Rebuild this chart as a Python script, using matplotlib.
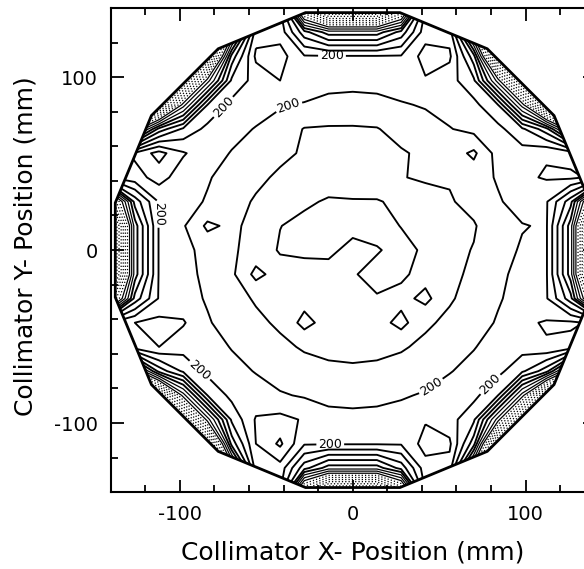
import numpy as np
import matplotlib
matplotlib.use('Agg')
import matplotlib.pyplot as plt
from matplotlib.patches import Polygon

plt.rcParams['axes.unicode_minus'] = False
plt.rcParams['font.family'] = 'DejaVu Sans'

# measurement grid (mm), 14 mm pitch
x_mm = [-140, -126, -112, -98, -84, -70, -56, -42, -28, -14, 0,
        14, 28, 42, 56, 70, 84, 98, 112, 126, 140]
y_mm = [140, 126, 112, 98, 84, 70, 56, 42, 28, 14, 0,
        -14, -28, -42, -56, -70, -84, -98, -112, -126, -140]

# counts, top row (y=140) first
counts = [
    [340, 340, 340, 340, 340, 260, 196, 200, 310, 360, 360, 360, 310, 200, 196, 260, 340, 340, 340, 340, 340],
    [340, 340, 340, 345, 350, 280, 194, 194, 226, 245, 245, 245, 226, 194, 194, 280, 350, 345, 340, 340, 340],
    [340, 340, 345, 350, 340, 226, 188, 186, 199, 199, 199, 199, 199, 186, 188, 226, 340, 350, 345, 340, 340],
    [340, 345, 350, 340, 265, 208, 196, 190, 192, 196.5, 197, 196.5, 194, 191, 196, 208, 265, 340, 350, 345, 340],
    [340, 350, 340, 265, 210, 197, 196, 199, 201, 203, 203.5, 203, 201, 199, 196, 197, 210, 265, 340, 350, 340],
    [260, 280, 226, 208, 197, 197, 200.5, 204.5, 210.5, 211, 211, 210.5, 206.5, 204.5, 200.5, 197, 197, 208, 226, 280, 260],
    [196, 188, 176, 189, 196, 200.5, 205, 208, 211, 212.5, 213, 212.5, 211, 208, 205, 212, 196, 196, 191, 194, 196],
    [200, 194, 186, 195.5, 199, 204.5, 208, 211.5, 214, 215.5, 216, 215.5, 210.5, 208.5, 209, 204.5, 199, 192, 189, 188, 192],
    [310, 226, 199, 196, 201, 206.5, 211, 216, 218.5, 221, 220.5, 220.5, 218.5, 215, 211, 206.5, 201, 196, 199, 226, 310],
    [360, 245, 199, 199, 212, 208, 213, 219.8, 222.5, 222.5, 222, 222.5, 219.8, 218.5, 212.5, 211, 202.5, 200.5, 199, 245, 360],
    [360, 245, 199, 197, 203.5, 208.5, 214, 221, 221.5, 221.5, 218, 219.5, 222, 219, 213, 209.5, 203.5, 199, 199, 245, 360],
    [360, 245, 199, 196.5, 202.5, 208, 223, 215.5, 217, 217.5, 219.5, 222, 222, 216, 212.5, 208, 202.5, 196.5, 199, 245, 360],
    [310, 226, 199, 196, 201, 206.5, 211, 214, 216, 216, 218, 219.5, 216.5, 223, 211, 206.5, 201, 196, 199, 226, 310],
    [200, 190, 187, 189, 199, 204.5, 208, 211.5, 223.5, 215.5, 216, 215.5, 223.5, 211.5, 208, 204.5, 199, 192, 189, 188, 192],
    [196, 194, 190, 196, 196, 200.5, 205, 208, 211, 212.5, 213, 212.5, 211, 208, 205, 200.5, 196, 196, 191, 194, 196],
    [260, 280, 226, 208, 197, 197, 200.5, 204.5, 206.5, 208, 208.5, 208, 206.5, 204.5, 200.5, 197, 197, 208, 226, 280, 260],
    [340, 350, 340, 265, 210, 197, 196, 199, 201, 203, 203.5, 203, 201, 199, 196, 197, 210, 265, 340, 350, 340],
    [340, 345, 350, 340, 265, 208, 189, 187, 191, 196.5, 197, 196.5, 196, 191, 196, 208, 265, 340, 350, 345, 340],
    [340, 340, 345, 350, 340, 226, 190, 178, 199, 199, 199, 199, 199, 186, 188, 226, 340, 350, 345, 340, 340],
    [340, 340, 340, 345, 350, 280, 194, 194, 226, 245, 245, 245, 226, 194, 194, 280, 350, 345, 340, 340, 340],
    [340, 340, 340, 340, 340, 260, 196, 200, 310, 360, 360, 360, 310, 200, 196, 260, 340, 340, 340, 340, 340],
]

levels = [lv for lv in range(180, 360, 10) if lv != 200]
label_level = [200]
# dense rim levels get thinner, then dotted strokes (stippled look)
widths = [1.35 if lv < 250 else 0.9 for lv in levels]
styles = ['solid' if lv < 280 else 'dotted' for lv in levels]

fig = plt.figure(figsize=(5.84, 5.69), dpi=100)
ax = fig.add_axes([0.188, 0.135, 0.832, 0.851])

# 16-sided field of view, radius 140 mm
ang = np.deg2rad(11.25 + 22.5 * np.arange(16))
fov = Polygon(np.column_stack([140 * np.cos(ang), 140 * np.sin(ang)]),
              closed=True, fill=False, edgecolor='black', linewidth=2.0, zorder=3)
ax.add_patch(fov)

X, Y = np.meshgrid(x_mm, y_mm)
Z = np.array(counts)
cs = ax.contour(X, Y, Z, levels=levels, colors='black', linewidths=widths, linestyles=styles)
cs2 = ax.contour(X, Y, Z, levels=label_level, colors='black', linewidths=1.35)
ax.clabel(cs2, fmt='%d', fontsize=9, inline=True, inline_spacing=2,
          manual=[(-12, 114), (-77, 85), (-112, 21), (-88, -69), (-13, -110),
                  (44, -77), (75, -73), (-38, 86)])
cs.set_clip_path(fov)
cs2.set_clip_path(fov)

ax.set_xlim(-140, 140)
ax.set_ylim(-140, 140)
ax.set_aspect('equal')

ax.set_xticks([-100, 0, 100])
ax.set_yticks([-100, 0, 100])
minor = [-120, -80, -60, -40, -20, 20, 40, 60, 80, 120]
ax.set_xticks(minor, minor=True)
ax.set_yticks(minor, minor=True)
ax.tick_params(which='both', direction='in', top=True, right=True, width=1.3, labelsize=14, pad=9)
ax.tick_params(which='major', length=9)
ax.tick_params(which='minor', length=5)
for s in ax.spines.values():
    s.set_linewidth(1.5)

ax.set_xlabel('Collimator X- Position (mm)', fontsize=18)
ax.set_ylabel('Collimator Y- Position (mm)', fontsize=18)
ax.xaxis.set_label_coords(0.5, -0.1)
ax.yaxis.set_label_coords(-0.15, 0.508)

fig.savefig('out.png', dpi=100)
